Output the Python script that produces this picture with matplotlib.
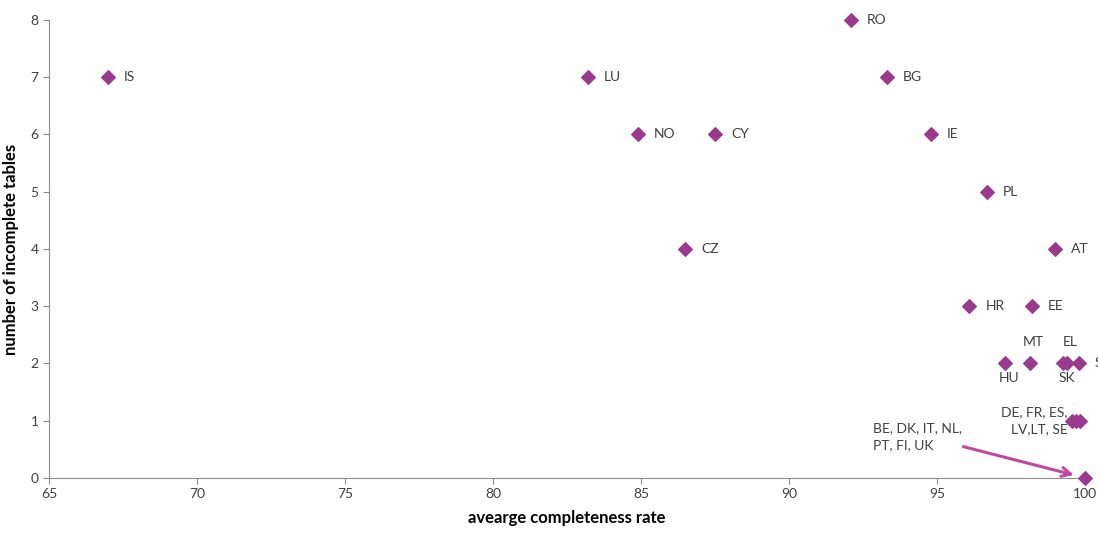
import matplotlib.pyplot as plt

plt.rcParams['font.family'] = ['Lato', 'DejaVu Sans']

# countries labelled to the right of the marker
countries = ['IS', 'LU', 'NO', 'CY', 'CZ', 'RO', 'BG', 'IE', 'PL', 'AT', 'HR', 'EE', 'SI']
completeness = [67.0, 83.2, 84.9, 87.5, 86.5, 92.1, 93.3, 94.8, 96.7, 99.0, 96.1, 98.2, 99.8]
incomplete = [7, 7, 6, 6, 4, 8, 7, 6, 5, 4, 3, 3, 2]

# countries with labels placed above / below
above_names = ['MT', 'EL']
above_x = [98.15, 99.4]
above_y = [2, 2]
below_names = ['HU', 'SK']
below_x = [97.3, 99.25]
below_y = [2, 2]

# group points
group1_x = [99.55, 99.7, 99.85]
group1_y = [1, 1, 1]
group1_label = 'DE, FR, ES,\nLV,LT, SE'
group0_x = [100.0]
group0_y = [0]
group0_label = 'BE, DK, IT, NL,\nPT, FI, UK'

purple = '#9a3a8e'
arrow_col = '#c2489f'
grey = '#8c8c8c'
text_col = '#404040'

fig = plt.figure(figsize=(10.98, 5.33), dpi=100)
ax = fig.add_axes([0.0446, 0.1032, 0.9435, 0.8593])

all_x = completeness + above_x + below_x + group1_x + group0_x
all_y = incomplete + above_y + below_y + group1_y + group0_y
ax.scatter(all_x, all_y, marker='D', s=48, color=purple, zorder=3, clip_on=False)

for name, x, y in zip(countries, completeness, incomplete):
    ax.annotate(name, (x, y), xytext=(11.5, 0), textcoords='offset points',
                va='center', ha='left', fontsize=10, color=text_col, annotation_clip=False)
for name, x, y in zip(above_names, above_x, above_y):
    ax.annotate(name, (x, y), xytext=(2, 11), textcoords='offset points',
                va='bottom', ha='center', fontsize=10, color=text_col)
for name, x, y in zip(below_names, below_x, below_y):
    ax.annotate(name, (x, y), xytext=(3, -6), textcoords='offset points',
                va='top', ha='center', fontsize=10, color=text_col)

ax.annotate(group1_label, (group1_x[0], group1_y[0]), xytext=(-3, 0), textcoords='offset points',
            va='center', ha='right', fontsize=10, color=text_col, linespacing=1.45)
ax.text(92.85, 0.72, group0_label, va='center', ha='left', fontsize=10,
        color=text_col, linespacing=1.45)
ax.annotate('', xy=(99.72, 0.04), xytext=(95.8, 0.56),
            arrowprops=dict(arrowstyle='->', color=arrow_col, lw=2.2, mutation_scale=16))

ax.set_xlim(65, 100)
ax.set_ylim(0, 8)
ax.set_xticks(range(65, 101, 5))
ax.set_yticks(range(0, 9))
for side in ['top', 'right']:
    ax.spines[side].set_visible(False)
for side in ['left', 'bottom']:
    ax.spines[side].set_color(grey)
ax.tick_params(colors=grey, labelcolor=text_col, labelsize=10, length=4, direction='out')

ax.set_xlabel('avearge completeness rate', fontsize=12, fontweight='bold', labelpad=7)
ax.set_ylabel('number of incomplete tables', fontsize=12, fontweight='bold', labelpad=8)

fig.savefig('out.png', dpi=100)
